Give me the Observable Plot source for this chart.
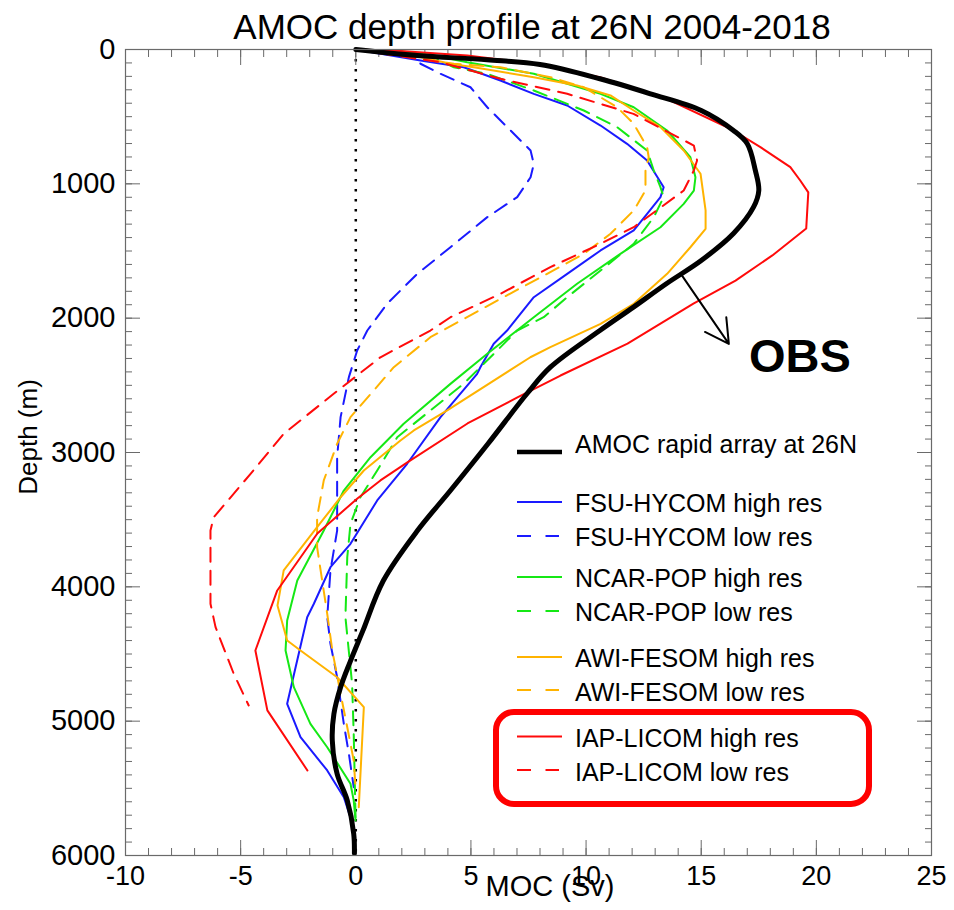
<!DOCTYPE html>
<html>
<head>
<meta charset="utf-8">
<script src="https://cdn.jsdelivr.net/npm/d3@7"></script>
<script src="https://cdn.jsdelivr.net/npm/@observablehq/plot@0.6"></script>
<style>
  html, body { margin: 0; padding: 0; background: #fff; }
  #chart { width: 954px; height: 910px; }
</style>
</head>
<body>
<div id="chart"></div>
<script>
// ---------- Data ----------
const title = "AMOC depth profile at 26N 2004-2018";
const xLabel = "MOC (Sv)";
const yLabel = "Depth (m)";
const xMajorTicks = [-10, -5, 0, 5, 10, 15, 20, 25];
const yMajorTicks = [0, 1000, 2000, 3000, 4000, 5000, 6000];

// AMOC RAPID array observations
const obsDepth = [0, 45, 77, 112, 218, 330, 454, 603, 702, 900, 1050, 1174, 1370, 1571, 1742, 1918, 2092, 2365, 2561, 2933, 3283, 3581, 3953, 4330, 4560, 4747, 4945, 5144, 5392, 5590, 5838, 5985];
const obsMoc   = [0, 2.67, 5.7, 8.0, 10.6, 12.8, 15.0, 16.4, 17.0, 17.35, 17.5, 17.27, 16.4, 15.0, 13.5, 12.06, 10.6, 8.45, 7.44, 5.75, 4.11, 2.68, 1.2, 0.3, -0.25, -0.66, -0.95, -1.02, -0.81, -0.37, -0.09, -0.06];

// FSU-HYCOM
const fsuHighDepth = [0, 82, 132, 231, 330, 417, 566, 702, 826, 1025, 1099, 1223, 1347, 1496, 1670, 1844, 2092, 2191, 2365, 2414, 2737, 3084, 3357, 3680, 3854, 4126, 4226, 4871, 5119, 5367, 5566, 5789, 5985];
const fsuHighMoc   = [0, 2.81, 4.69, 6.28, 7.73, 9.18, 10.63, 11.78, 12.65, 13.37, 13.23, 12.65, 12.07, 10.63, 9.18, 7.73, 6.57, 5.99, 5.41, 5.27, 3.68, 2.23, 0.93, -0.23, -1.1, -1.82, -2.11, -2.98, -2.4, -1.24, -0.52, -0.09, -0.09];
const fsuLowDepth  = [0, 57, 106, 181, 281, 430, 603, 752, 851, 951, 1099, 1248, 1472, 1670, 1893, 2092, 2241, 2439, 2737, 3035, 3581, 3878, 4226, 4424, 4673, 5020, 5243, 5491];
const fsuLowMoc    = [0, 2.67, 2.81, 3.68, 4.98, 5.71, 6.72, 7.59, 7.73, 7.59, 7.01, 5.71, 4.11, 2.67, 1.36, 0.5, 0.06, -0.3, -0.66, -0.81, -0.81, -1.1, -1.24, -1.1, -0.81, -0.52, -0.3, -0.09];

// NCAR-POP
const ncarHighDepth = [0, 13, 45, 95, 181, 330, 430, 603, 802, 951, 1050, 1149, 1323, 1521, 1744, 1993, 2265, 2489, 2786, 3035, 3283, 3581, 3953, 4251, 4474, 4747, 5020, 5194, 5466, 5590, 5739];
const ncarHighMoc   = [0, 1.94, 3.39, 4.84, 7.73, 10.63, 12.07, 13.52, 14.53, 14.75, 14.68, 14.24, 13.23, 11.49, 9.61, 7.73, 5.71, 4.11, 2.08, 0.64, -0.52, -1.39, -2.54, -2.98, -3.05, -2.69, -1.97, -1.24, -0.23, -0.09, -0.01];
const ncarLowDepth  = [0, 57, 132, 181, 305, 454, 578, 752, 901, 1025, 1099, 1248, 1446, 1645, 1844, 1993, 2092, 2489, 2687, 2886, 3134, 3333, 3531, 3779, 4226, 4722, 5094, 5715];
const ncarLowMoc    = [0, 3.39, 4.26, 5.71, 7.73, 9.9, 11.35, 12.65, 12.94, 13.23, 13.37, 12.94, 12.07, 10.63, 9.18, 8.16, 7.01, 4.68, 3.24, 1.8, 0.93, 0.2, -0.23, -0.37, -0.45, -0.16, -0.09, -0.01];

// AWI-FESOM
const awiHighDepth = [0, 22, 106, 132, 206, 268, 342, 454, 578, 752, 925, 1198, 1335, 1472, 1670, 1893, 2042, 2216, 2291, 2687, 2836, 2911, 3134, 3333, 3556, 3878, 4139, 4400, 4474, 4673, 4896, 5640];
const awiHighMoc   = [0, 1.94, 4.11, 5.12, 7.73, 9.61, 11.06, 12.07, 13.23, 14.24, 14.97, 15.19, 15.19, 14.53, 13.52, 12.07, 10.63, 8.45, 7.58, 3.97, 2.52, 1.94, 0.35, -0.66, -1.68, -3.13, -3.4, -2.98, -2.4, -0.81, 0.35, 0.13];
const awiLowDepth  = [0, 106, 132, 206, 281, 430, 553, 727, 802, 901, 1050, 1198, 1372, 1521, 1630, 1869, 2142, 2365, 2538, 2737, 2935, 3208, 3482, 3705, 4201, 4474, 4796, 5045, 5293, 5491];
const awiLowMoc    = [0, 4.26, 6.28, 8.45, 9.9, 11.35, 12.07, 12.65, 12.72, 12.58, 12.58, 12.07, 11.06, 9.9, 8.74, 6.14, 3.24, 1.65, 0.78, -0.23, -0.81, -1.39, -1.68, -1.68, -1.24, -1.02, -0.66, -0.37, -0.09, -0.01];

// IAP-LICOM
const iapHighDepth = [0, 12, 45, 106, 206, 367, 590, 727, 876, 975, 1064, 1332, 1533, 1720, 1891, 2189, 2427, 2590, 2784, 3074, 3208, 3342, 3603, 4027, 4474, 4920, 5367];
const iapHighMoc   = [0, 1.94, 4.84, 7.72, 10.6, 13.5, 16.27, 17.57, 18.87, 19.3, 19.65, 19.56, 18.09, 16.49, 14.66, 11.8, 8.89, 7.02, 4.85, 2.24, 1.07, 0.07, -1.67, -3.41, -4.36, -3.84, -2.1];
const iapLowDepth  = [0, 95, 218, 330, 479, 715, 826, 901, 1050, 1323, 1446, 1620, 1819, 1993, 2092, 2291, 2563, 2861, 3159, 3482, 3581, 4126, 4300, 4647, 4883];
const iapLowMoc    = [0, 3.68, 6.28, 9.18, 12.06, 14.68, 14.82, 14.68, 14.24, 12.07, 10.63, 8.45, 6.28, 4.11, 3.24, 1.07, -0.96, -3.13, -4.57, -6.17, -6.31, -6.31, -6.09, -5.3, -4.65];

// Series names, colours and styles
const seriesNames = ["FSU-HYCOM high res", "FSU-HYCOM low res", "NCAR-POP high res", "NCAR-POP low res",
                     "AWI-FESOM high res", "AWI-FESOM low res", "IAP-LICOM high res", "IAP-LICOM low res"];
const seriesColors = ["#1a1aff", "#1a1aff", "#15e815", "#15e815", "#ffb300", "#ffb300", "#ff0a0a", "#ff0a0a"];
const seriesDashed = [false, true, false, true, false, true, false, true];
const seriesDepths = [fsuHighDepth, fsuLowDepth, ncarHighDepth, ncarLowDepth, awiHighDepth, awiLowDepth, iapHighDepth, iapLowDepth];
const seriesMocs   = [fsuHighMoc, fsuLowMoc, ncarHighMoc, ncarLowMoc, awiHighMoc, awiLowMoc, iapHighMoc, iapLowMoc];
const obsName = "AMOC rapid array at 26N";

// OBS annotation arrow (data coordinates: Sv, m)
const obsArrow = [{x1: 14.1, y1: 1667, x2: 16.2, y2: 2191}];

// ---------- Build tables ----------
const obsRows = obsDepth.map((d, i) => ({depth: d, moc: obsMoc[i]}));
const seriesRows = seriesNames.map((name, s) =>
  seriesDepths[s].map((d, i) => ({name, depth: d, moc: seriesMocs[s][i]})));

const minorX = d3.range(-10, 25.001, 1);
const minorY = d3.range(0, 6000.1, 100);
const FONT = "'Liberation Sans', Arial, Helvetica, sans-serif";
const axisGrey = "#6a6a6a";

const lineMarks = seriesRows.map((rows, s) =>
  Plot.line(rows, {
    x: "moc", y: "depth",
    stroke: seriesColors[s],
    strokeWidth: 2,
    strokeDasharray: seriesDashed[s] ? "14,9" : null,
    curve: "linear"
  }));

const chart = Plot.plot({
  width: 954,
  height: 910,
  marginLeft: 125,
  marginRight: 23,
  marginTop: 49,
  marginBottom: 55,
  x: {domain: [-10, 25]},
  y: {domain: [0, 6000], reverse: true},
  style: {fontFamily: FONT, background: "white", color: "black", overflow: "visible"},
  marks: [
    // zero line
    Plot.ruleX([0], {stroke: "black", strokeWidth: 2.5, strokeDasharray: "2.5,7.5"}),
    // minor ticks (inward) on all four sides
    Plot.axisX({anchor: "bottom", ticks: minorX, tickSize: -7, tickFormat: () => "", label: null, stroke: axisGrey}),
    Plot.axisX({anchor: "top", ticks: minorX, tickSize: -7, tickFormat: () => "", label: null, stroke: axisGrey}),
    Plot.axisY({anchor: "left", ticks: minorY, tickSize: -7, tickFormat: () => "", label: null, stroke: axisGrey}),
    Plot.axisY({anchor: "right", ticks: minorY, tickSize: -7, tickFormat: () => "", label: null, stroke: axisGrey}),
    // major ticks (inward)
    Plot.axisX({anchor: "bottom", ticks: xMajorTicks, tickSize: -15, tickFormat: () => "", label: null, stroke: axisGrey}),
    Plot.axisX({anchor: "top", ticks: xMajorTicks, tickSize: -15, tickFormat: () => "", label: null, stroke: axisGrey}),
    Plot.axisY({anchor: "left", ticks: yMajorTicks, tickSize: -15, tickFormat: () => "", label: null, stroke: axisGrey}),
    Plot.axisY({anchor: "right", ticks: yMajorTicks, tickSize: -15, tickFormat: () => "", label: null, stroke: axisGrey}),
    // tick labels
    Plot.axisX({anchor: "bottom", ticks: xMajorTicks, tickSize: 0, tickPadding: 10, tickFormat: d => String(d), label: null, fontSize: 27, fill: "black"}),
    Plot.axisY({anchor: "left", ticks: yMajorTicks, tickSize: 0, tickPadding: 10, tickFormat: d => String(d), label: null, fontSize: 29, fill: "black"}),
    // model curves
    ...lineMarks,
    // observations (smooth profile)
    Plot.line(obsRows, {x: "moc", y: "depth", stroke: "black", strokeWidth: 5, curve: "catmull-rom", strokeLinejoin: "round"}),
    // annotation arrow
    Plot.arrow(obsArrow, {x1: "x1", y1: "y1", x2: "x2", y2: "y2", stroke: "black", strokeWidth: 2, headLength: 20, headAngle: 58}),
    Plot.frame({stroke: axisGrey, strokeWidth: 1.2})
  ]
});

document.getElementById("chart").appendChild(chart);

// ---------- Overlay text, legend and highlight box ----------
const svg = d3.select(chart);
const g = svg.append("g").attr("font-family", FONT).attr("fill", "black").attr("text-anchor", "start");

g.append("text").attr("x", 532).attr("y", 39).attr("text-anchor", "middle")
  .attr("font-size", 35).text(title);
g.append("text").attr("x", 550).attr("y", 896).attr("text-anchor", "middle")
  .attr("font-size", 29).text(xLabel);
g.append("text").attr("transform", "translate(37,437) rotate(-90)").attr("text-anchor", "middle")
  .attr("font-size", 26).text(yLabel);

g.append("text").attr("x", 749).attr("y", 372).attr("text-anchor", "start")
  .attr("font-size", 47).attr("font-weight", "bold").text("OBS");

// legend
const legendItems = [
  {name: obsName, color: "black", dashed: false, width: 4.5, lineY: 452, textY: 453},
  ...seriesNames.map((name, s) => ({name, color: seriesColors[s], dashed: seriesDashed[s], width: 2}))
];
const seriesLineY = [502, 536, 577, 611, 657, 690, 736.5, 770];
const seriesTextY = [512, 546, 587, 621, 667, 700.5, 747, 781];
seriesNames.forEach((_, s) => {
  legendItems[s + 1].lineY = seriesLineY[s];
  legendItems[s + 1].textY = seriesTextY[s];
});
legendItems.forEach(it => {
  g.append("line").attr("x1", 517).attr("x2", it.dashed ? 559 : 562)
    .attr("y1", it.lineY).attr("y2", it.lineY)
    .attr("stroke", it.color).attr("stroke-width", it.width)
    .attr("stroke-dasharray", it.dashed ? "14,14.5" : null);
  g.append("text").attr("x", 575).attr("y", it.textY).attr("text-anchor", "start")
    .attr("font-size", 25).text(it.name);
});

g.append("rect").attr("x", 496).attr("y", 712).attr("width", 373).attr("height", 92)
  .attr("rx", 18).attr("ry", 18).attr("fill", "none").attr("stroke", "#ff0000").attr("stroke-width", 6);
</script>
</body>
</html>
